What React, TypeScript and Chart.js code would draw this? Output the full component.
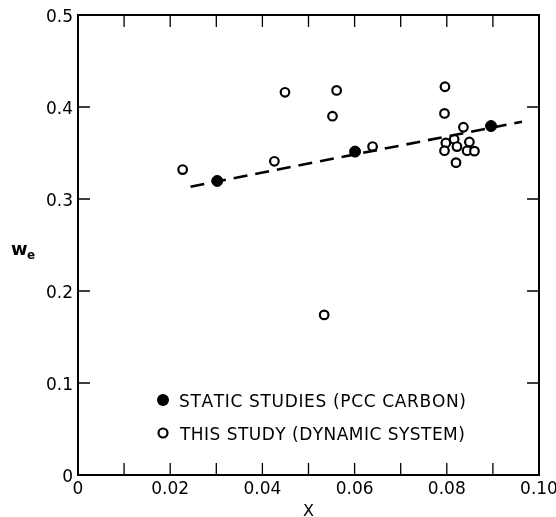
import React, { useEffect, useRef } from "react";
import { Chart, registerables } from "chart.js";

Chart.register(...registerables);

// Static studies (PCC carbon) – filled circles
const staticX = [0.0302, 0.0601, 0.0896];
const staticY = [0.3196, 0.3515, 0.3793];

// This study (dynamic system) – open circles
const dynamicX = [
  0.0227, 0.0426, 0.0449, 0.0552, 0.0561, 0.0534, 0.0639, 0.0796, 0.0795,
  0.0836, 0.0798, 0.0816, 0.0795, 0.0822, 0.0849, 0.0844, 0.086, 0.082,
];
const dynamicY = [
  0.332, 0.341, 0.416, 0.39, 0.418, 0.174, 0.357, 0.422, 0.393, 0.378, 0.361,
  0.365, 0.3525, 0.357, 0.362, 0.3525, 0.352, 0.3395,
];

// Dashed fit line end points
const fitX = [0.0244, 0.0963];
const fitY = [0.3134, 0.384];

const legendLabels = [
  "STATIC STUDIES (PCC CARBON)",
  "THIS STUDY (DYNAMIC SYSTEM)",
];
const xTitle = "X";
const yTitleMain = "w";
const yTitleSub = "e";

const FONT = "'DejaVu Sans', sans-serif";

function drawSpaced(ctx: CanvasRenderingContext2D, text: string, x: number, y: number, target: number) {
  const natural = ctx.measureText(text).width;
  const extra = text.length > 1 ? (target - natural) / (text.length - 1) : 0;
  let cx = x;
  for (const ch of text) {
    ctx.fillText(ch, cx, y);
    cx += ctx.measureText(ch).width + extra;
  }
}

const framePlugin = {
  id: "frame",
  afterDraw(chart: any) {
    const { ctx, chartArea } = chart;
    const { left, right, top, bottom } = chartArea;
    const xs = chart.scales.x;
    const ys = chart.scales.y;
    ctx.save();
    ctx.strokeStyle = "#000";
    ctx.lineWidth = 2;
    ctx.strokeRect(left, top, right - left, bottom - top);
    ctx.lineWidth = 1.3;
    const tl = 12;
    xs.ticks.forEach((t: any) => {
      const px = xs.getPixelForValue(t.value);
      ctx.beginPath();
      ctx.moveTo(px, bottom);
      ctx.lineTo(px, bottom - tl);
      ctx.moveTo(px, top);
      ctx.lineTo(px, top + tl);
      ctx.stroke();
    });
    ys.ticks.forEach((t: any) => {
      const py = ys.getPixelForValue(t.value);
      ctx.beginPath();
      ctx.moveTo(left, py);
      ctx.lineTo(left + tl, py);
      ctx.moveTo(right, py);
      ctx.lineTo(right - tl, py);
      ctx.stroke();
    });

    // legend
    ctx.fillStyle = "#000";
    const lx = left + 85;
    const ly1 = bottom - 75;
    const ly2 = bottom - 42;
    ctx.beginPath();
    ctx.arc(lx, ly1, 6, 0, Math.PI * 2);
    ctx.fill();
    ctx.lineWidth = 2.2;
    ctx.beginPath();
    ctx.arc(lx, ly2, 4.5, 0, Math.PI * 2);
    ctx.stroke();
    ctx.font = `17px ${FONT}`;
    ctx.textBaseline = "alphabetic";
    ctx.textAlign = "left";
    drawSpaced(ctx, legendLabels[0], lx + 16, ly1 + 6.5, 284);
    drawSpaced(ctx, legendLabels[1], lx + 17, ly2 + 6.5, 283);

    // axis titles
    ctx.font = `16px ${FONT}`;
    ctx.textAlign = "center";
    ctx.fillText(xTitle, (left + right) / 2, 516);
    ctx.textAlign = "left";
    ctx.font = `bold 18px ${FONT}`;
    ctx.fillText(yTitleMain, 11, 255);
    ctx.font = `bold 12px ${FONT}`;
    ctx.fillText(yTitleSub, 27, 259);
    ctx.restore();
  },
};

export default function App() {
  const ref = useRef<HTMLCanvasElement>(null);
  useEffect(() => {
    if (!ref.current) return;
    const chart = new Chart(ref.current, {
      type: "scatter",
      data: {
        datasets: [
          {
            type: "line",
            label: "fit",
            data: fitX.map((x, i) => ({ x, y: fitY[i] })),
            borderColor: "#000",
            borderWidth: 2.6,
            borderDash: [14, 8],
            pointRadius: 0,
            fill: false,
          } as any,
          {
            label: legendLabels[1],
            data: dynamicX.map((x, i) => ({ x, y: dynamicY[i] })),
            pointRadius: 4.3,
            pointBorderWidth: 2.2,
            pointBorderColor: "#000",
            pointBackgroundColor: "#fff",
          },
          {
            label: legendLabels[0],
            data: staticX.map((x, i) => ({ x, y: staticY[i] })),
            pointRadius: 5.5,
            pointBorderWidth: 1,
            pointBorderColor: "#000",
            pointBackgroundColor: "#000",
          },
        ],
      },
      options: {
        responsive: false,
        animation: false,
        layout: { padding: { left: 0, top: 15, right: 17, bottom: 0 } },
        plugins: { legend: { display: false }, tooltip: { enabled: false } },
        scales: {
          x: {
            type: "linear",
            min: 0,
            max: 0.1,
            grid: { display: false, drawTicks: false },
            border: { display: false },
            ticks: {
              stepSize: 0.01,
              autoSkip: false,
              maxRotation: 0,
              padding: 4,
              color: "#000",
              font: { family: FONT, size: 17 },
              callback: (v: any) => {
                const r = Math.round(Number(v) * 100);
                if (r % 2 !== 0) return "";
                if (r === 0) return "0";
                return (r / 100).toFixed(2);
              },
            },
            afterFit: (s: any) => {
              s.height = 42;
              s.paddingLeft = 0;
              s.paddingRight = 0;
            },
          },
          y: {
            type: "linear",
            min: 0,
            max: 0.5,
            grid: { display: false, drawTicks: false },
            border: { display: false },
            ticks: {
              stepSize: 0.1,
              padding: 5,
              labelOffset: 3,
              color: "#000",
              font: { family: FONT, size: 17 },
              callback: (v: any) => {
                const n = Number(v);
                return Math.abs(n) < 1e-9 ? "0" : n.toFixed(1);
              },
            },
            afterFit: (s: any) => {
              s.width = 78;
              s.paddingTop = 0;
              s.paddingBottom = 0;
            },
          },
        },
      },
      plugins: [framePlugin],
    });
    return () => chart.destroy();
  }, []);
  return (
    <canvas
      ref={ref}
      width={556}
      height={517}
      style={{ position: "absolute", left: 0, top: 0, display: "block" }}
    />
  );
}
